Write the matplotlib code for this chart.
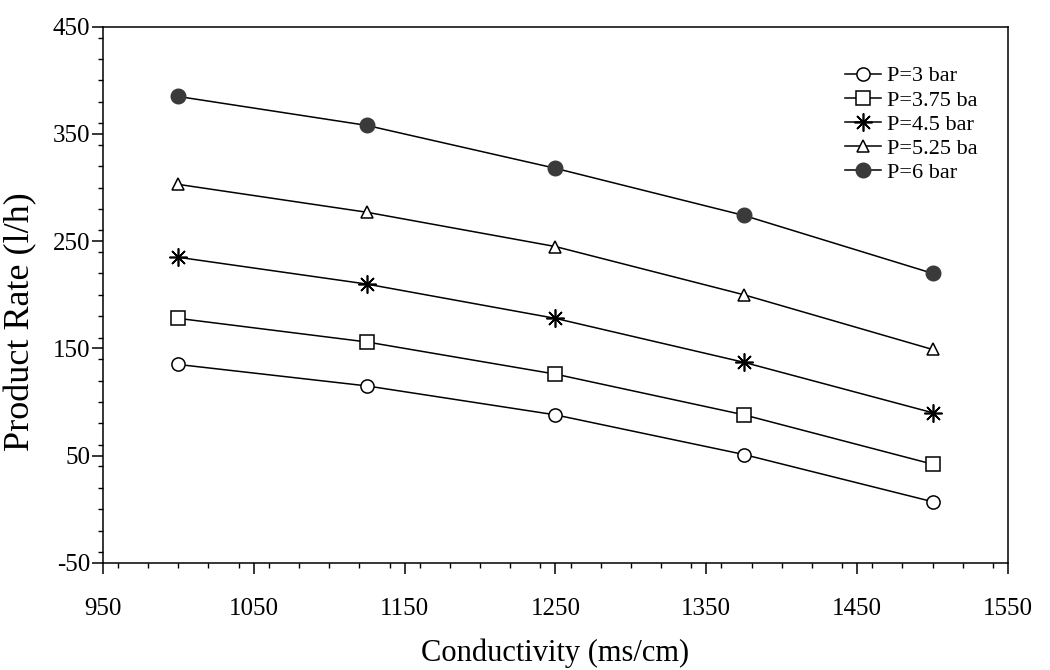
import matplotlib
matplotlib.use("Agg")
import matplotlib.pyplot as plt
from matplotlib.ticker import MultipleLocator

conductivity = [1000, 1125, 1250, 1375, 1500]

p3 = [135, 115, 88, 51, 7]
p375 = [178, 156, 126, 88, 42]
p45 = [235, 210, 178, 137, 90]
p525 = [303, 277, 245, 200, 149]
p6 = [385, 358, 318, 274, 220]

labels = ["P=3 bar", "P=3.75 ba", "P=4.5 bar", "P=5.25 ba", "P=6 bar"]
xticks = [950, 1050, 1150, 1250, 1350, 1450, 1550]
yticks = [-50, 50, 150, 250, 350, 450]

plt.rcParams["font.family"] = ["Liberation Serif", "DejaVu Serif"]
plt.rcParams["axes.unicode_minus"] = False

fig = plt.figure(figsize=(10.5, 6.7), dpi=100)
ax = fig.add_axes([0.098, 0.16, 0.862, 0.8])

ax.plot(conductivity, p3, color="black", lw=1.1, marker="o", ms=9.5,
        mfc="white", mec="black", mew=1.1, label=labels[0])
ax.plot(conductivity, p375, color="black", lw=1.1, marker="s", ms=10,
        mfc="white", mec="black", mew=1.1, label=labels[1])
ax.plot(conductivity, p45, color="black", lw=1.1, marker=(8, 2, 0), ms=13,
        mec="black", mew=1.2, label=labels[2])
ax.plot(conductivity, p525, color="black", lw=1.1, marker="^", ms=9,
        mfc="white", mec="black", mew=1.1, label=labels[3])
ax.plot(conductivity, p6, color="black", lw=1.1, marker="o", ms=10.5,
        mfc="#3a3a3a", mec="#3a3a3a", label=labels[4])

ax.set_xlim(950, 1550)
ax.set_ylim(-50, 450)
ax.set_xticks(xticks)
ax.set_yticks(yticks)
ax.xaxis.set_minor_locator(MultipleLocator(20))
ax.yaxis.set_minor_locator(MultipleLocator(20))
ax.tick_params(axis="both", which="major", labelsize=18, length=8, width=1.1,
               direction="out")
ax.tick_params(axis="both", which="minor", length=3.5, width=1, direction="out")
ax.tick_params(axis="x", which="major", pad=17)
ax.tick_params(axis="y", which="major", pad=1)

ax.set_xlabel("Conductivity (ms/cm)", fontsize=22)
ax.xaxis.set_label_coords(0.5, -0.142)
ax.set_ylabel("Product Rate (l/h)", fontsize=26)
ax.yaxis.set_label_coords(-0.072, 0.45)

for s in ax.spines.values():
    s.set_linewidth(1.1)

ax.legend(loc="upper left", frameon=False, fontsize=16, handlelength=1.6,
          handletextpad=0.3, labelspacing=0.16, borderaxespad=0, borderpad=0,
          bbox_to_anchor=(0.82, 0.927))

fig.savefig("out.png", dpi=100)
